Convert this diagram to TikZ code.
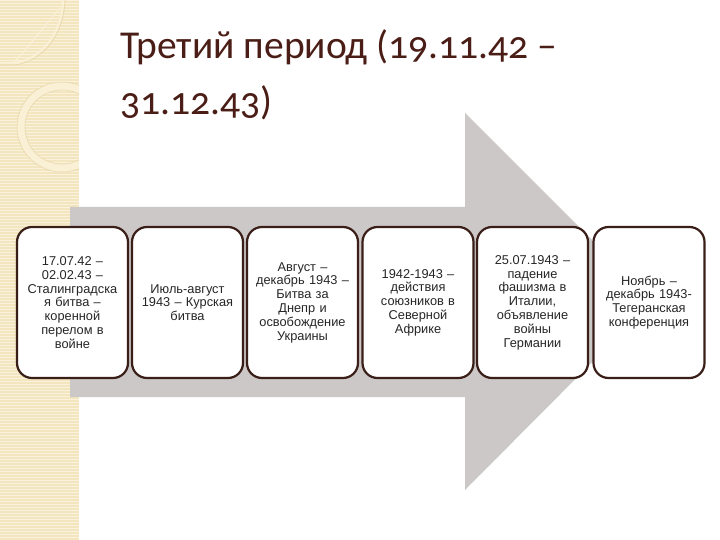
\documentclass[tikz,border=0pt]{standalone}
\usepackage{fontspec}
\setmainfont{Carlito}[Numbers=OldStyle]
\newfontfamily\boxfont{Liberation Sans}
\definecolor{stripbg}{HTML}{F3E5BE}
\definecolor{stripln}{HTML}{FAF2DC}
\definecolor{ringc}{HTML}{F9F0D6}
\definecolor{ringe}{HTML}{E8D7AC}
\definecolor{arrowgray}{HTML}{CDC8C8}
\definecolor{boxedge}{HTML}{3A1E18}
\definecolor{titlec}{HTML}{4A1E16}
\tikzset{
  evbox/.style={draw=boxedge, line width=2.2pt, fill=white, rounded corners=15pt,
    minimum width=111pt, minimum height=151pt, inner sep=2pt,
    align=center, text width=106pt, font=\boxfont\fontsize{12.8}{13.8}\selectfont, text=black!85},
}
\begin{document}
\begin{tikzpicture}[x=1pt,y=-1pt]
\useasboundingbox (0,0) rectangle (720,540);
\fill[white] (0,0) rectangle (720,540);
% left decorative strip
\begin{scope}
\clip (0,0) rectangle (79,540);
\fill[stripbg] (0,0) rectangle (79,540);
\foreach \yy in {0,3,...,540} {\draw[stripln, line width=0.9pt] (0,\yy) -- (79,\yy);}
\draw[ringc, line width=2pt] (0,63) -- (14,63) .. controls (40,60) and (62,35) .. (63,0);
\draw[ringc, line width=1.2pt] (14,63) -- (60,8);
\draw[ringe, line width=0.6pt] (0,65) -- (14,65) .. controls (42,62) and (64,36) .. (65,0);
\draw[ringc, line width=7pt] (62,127) circle (41);
\draw[ringe, line width=0.5pt] (62,127) circle (45);
\draw[ringe, line width=0.5pt] (62,127) circle (37);
\end{scope}
% big arrow
\fill[arrowgray] (70,207) -- (465,207) -- (465,113) -- (653,301) -- (465,490) -- (465,397) -- (70,397) -- cycle;
% title
\node[anchor=base west, inner sep=0pt, align=left, text=titlec,
  font=\fontsize{39.5}{56}\selectfont] (title) at (120,115) {Третий период (19.11.42 –\\31.12.43)};
% boxes
\node[evbox] (b1) at (72.5,302.5) {17.07.42 –\\02.02.43 –\\Сталинградска\\я битва –\\коренной\\перелом в\\войне};
\node[evbox] (b2) at (187.5,302.5) {Июль-август\\1943 – Курская\\битва};
\node[evbox] (b3) at (302.5,302.5) {Август –\\декабрь 1943 –\\Битва за\\Днепр и\\освобождение\\Украины};
\node[evbox] (b4) at (418,302.5) {1942-1943 –\\действия\\союзников в\\Северной\\Африке};
\node[evbox] (b5) at (532.5,302.5) {25.07.1943 –\\падение\\фашизма в\\Италии,\\объявление\\войны\\Германии};
\node[evbox] (b6) at (649,302.5) {Ноябрь –\\декабрь 1943-\\Тегеранская\\конференция};
\end{tikzpicture}
\end{document}
